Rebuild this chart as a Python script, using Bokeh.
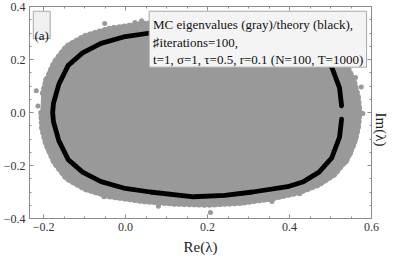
import numpy as np
from bokeh.plotting import figure
from bokeh.models import Range1d, LinearAxis, FixedTicker
from bokeh.core.properties import value
from bokeh.embed import file_html
from bokeh.resources import INLINE

# ---- data ----
# theory boundary, lower half (upper half is its mirror image)
theory_re_lower = [-0.178, -0.176, -0.163, -0.140, -0.105, -0.060, -0.005, 0.060,
                   0.166, 0.242, 0.310, 0.395, 0.434, 0.472, 0.503, 0.522, 0.527]
theory_im_lower = [0.000, -0.035, -0.106, -0.178, -0.225, -0.261, -0.285, -0.300,
                   -0.318, -0.313, -0.300, -0.280, -0.261, -0.225, -0.171, -0.093, -0.025]
# outer edge of the dense Monte-Carlo eigenvalue cloud, lower half
cloud_re_lower = [-0.207, -0.205, -0.195, -0.175, -0.145, -0.100, -0.040, 0.040, 0.120,
                  0.200, 0.280, 0.350, 0.420, 0.470, 0.510, 0.540, 0.558, 0.568, 0.572]
cloud_im_lower = [0.000, -0.060, -0.120, -0.190, -0.250, -0.290, -0.318, -0.336, -0.346,
                  -0.350, -0.343, -0.328, -0.305, -0.275, -0.235, -0.180, -0.120, -0.060, 0.000]
# isolated Monte-Carlo eigenvalues outside the dense cloud
outlier_re = [-0.051, 0.023, 0.039, -0.218, -0.195, -0.214, -0.053, -0.018, 0.080, 0.207,
              0.357, 0.425, 0.472, 0.538, 0.549, 0.561, 0.575, 0.561, 0.579, 0.517, 0.549]
outlier_im = [0.336, 0.340, 0.346, 0.082, 0.125, 0.025, -0.318, -0.321, -0.354, -0.377,
              -0.336, -0.307, -0.268, -0.186, -0.154, -0.100, 0.096, 0.132, -0.004, 0.160, 0.120]

x_ticks = [-0.2, 0.0, 0.2, 0.4, 0.6]
x_tick_labels = ["\u22120.2", "0.0", "0.2", "0.4", "0.6"]
y_ticks = [-0.4, -0.2, 0.0, 0.2, 0.4]
y_tick_labels = ["\u22120.4", "\u22120.2", "0.0", "0.2", "0.4"]
legend_lines = ["MC eigenvalues (gray)/theory (black),",
                "\u266fiterations=100,",
                "t=1, \u03c3=1, \u03c4=0.5, r=0.1 (N=100, T=1000)"]
panel_label = "(a)"
x_label = "Re(\u03bb)"
y_label = "Im(\u03bb)"

# ---- build curves ----
tre = np.array(theory_re_lower)
tim = np.array(theory_im_lower)
theory_re = np.concatenate([tre[1:][::-1], tre])
theory_im = np.concatenate([-tim[1:][::-1], tim])
cre = np.array(cloud_re_lower)
cim = np.array(cloud_im_lower)
cloud_re = np.concatenate([cre, cre[1:-1][::-1]])
cloud_im = np.concatenate([cim, -cim[1:-1][::-1]])

SERIF = "Liberation Serif"
FRAME = "#8c8c8c"
GRAY = "#999999"

p = figure(width=399, height=258, output_backend="svg", toolbar_location=None,
           x_range=Range1d(-0.2345, 0.6), y_range=Range1d(-0.4, 0.4),
           min_border_left=26, min_border_right=23, min_border_top=6, min_border_bottom=40)
p.grid.visible = False
p.outline_line_color = FRAME
p.background_fill_color = "white"
p.border_fill_color = "white"

x_minor = [round(v, 2) for v in np.arange(-0.2, 0.601, 0.05)]
y_minor = [round(v, 2) for v in np.arange(-0.4, 0.401, 0.05)]

def style(ax):
    ax.axis_line_color = FRAME
    ax.major_tick_line_color = FRAME
    ax.minor_tick_line_color = FRAME
    ax.major_tick_in = 4
    ax.major_tick_out = 0
    ax.minor_tick_in = 2
    ax.minor_tick_out = 0
    ax.major_label_text_font = SERIF
    ax.major_label_text_color = "#333333"
    ax.major_label_text_font_size = "12px"
    ax.major_label_standoff = 4
    ax.axis_label_text_font = SERIF
    ax.axis_label_text_font_style = "normal"
    ax.axis_label_text_font_size = "15px"
    ax.axis_label_text_color = "#222222"

p.xaxis.ticker = FixedTicker(ticks=x_ticks, minor_ticks=x_minor)
p.xaxis.major_label_overrides = dict(zip(x_ticks, x_tick_labels))
p.xaxis.axis_label = x_label
p.yaxis.ticker = FixedTicker(ticks=y_ticks, minor_ticks=y_minor)
p.yaxis.major_label_overrides = dict(zip(y_ticks, y_tick_labels))
style(p.xaxis[0])
style(p.yaxis[0])
p.xaxis.axis_label_standoff = 5

top = LinearAxis(ticker=FixedTicker(ticks=x_ticks, minor_ticks=x_minor))
style(top)
top.major_label_overrides = {t: "" for t in x_ticks}
top.major_label_standoff = 0
p.add_layout(top, "above")
right = LinearAxis(ticker=FixedTicker(ticks=y_ticks, minor_ticks=y_minor), axis_label=y_label)
style(right)
right.major_label_overrides = {t: "" for t in y_ticks}
right.major_label_standoff = 0
right.axis_label_standoff = 9
right.axis_label_orientation = -np.pi / 2
p.add_layout(right, "right")

# MC cloud
p.patch(cloud_re, cloud_im, fill_color=GRAY, line_color=GRAY, line_width=1)
p.line(cloud_re, cloud_im, line_color=GRAY, line_width=5, line_dash="1 4", line_cap="round")
p.scatter(outlier_re, outlier_im, size=5, fill_color=GRAY, line_color=None)
# theory
p.line(theory_re, theory_im, line_color="black", line_width=4.8, line_cap="round",
       line_join="round")

# legend box
p.quad(left=[0.0575], right=[0.588], top=[0.382], bottom=[0.171],
       fill_color="#f4f4f4", line_color="#a8a8a8", line_width=1)
p.text(x=[0.067, 0.067, 0.067], y=[0.332, 0.264, 0.200], text=legend_lines,
       text_font=value(SERIF), text_font_size="13px", text_color="#111111",
       text_baseline="alphabetic", text_align="left")
# panel label
p.quad(left=[-0.2253], right=[-0.184], top=[0.382], bottom=[0.279],
       fill_color="#f0f0f0", line_color="#a8a8a8", line_width=1)
p.text(x=[-0.2225], y=[0.292], text=[panel_label],
       text_font=value(SERIF), text_font_size="13px", text_color="#111111",
       text_baseline="alphabetic", text_align="left")

open("out.html", "w").write(file_html(p, INLINE))
